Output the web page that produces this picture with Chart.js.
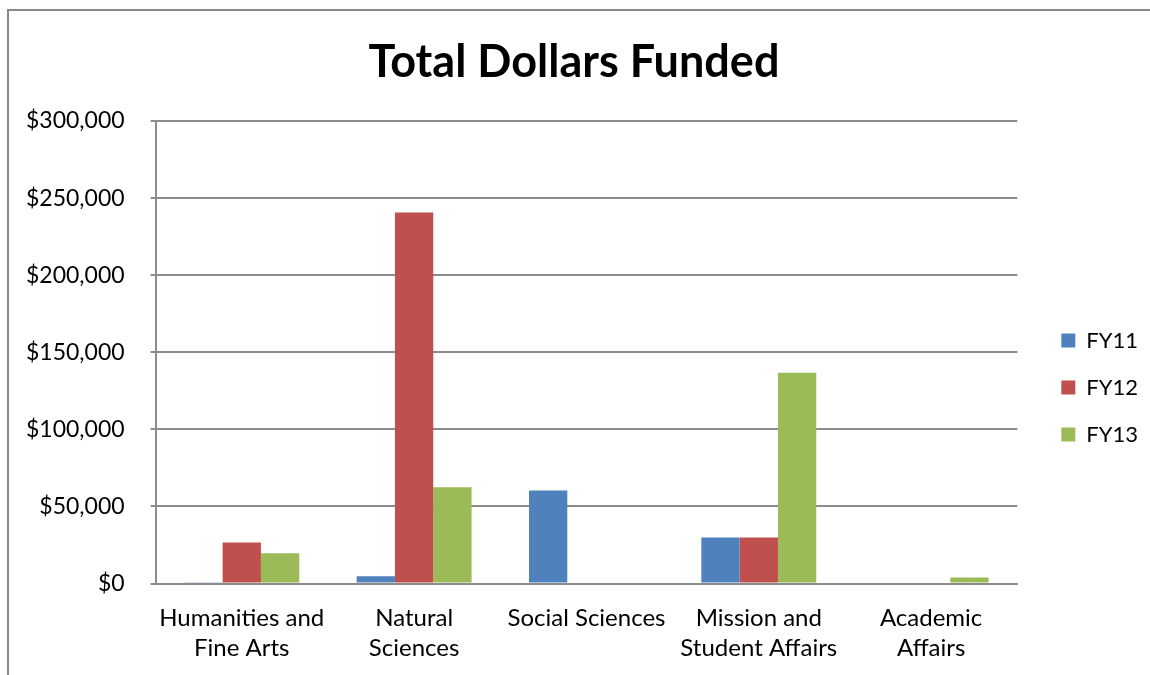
<!DOCTYPE html>
<html>
<head>
<meta charset="utf-8">
<script src="https://cdn.jsdelivr.net/npm/chart.js@4/dist/chart.umd.min.js"></script>
<style>
  html, body { margin: 0; padding: 0; background: #fff; }
  #wrap { position: relative; width: 1150px; height: 675px; overflow: hidden; }
  #frame { position: absolute; left: 7px; top: 9px; width: 1160px; height: 700px;
           border-top: 2px solid #878787; border-left: 2px solid #878787; }
  #chart { position: absolute; left: 0; top: 0; }
</style>
</head>
<body>
<div id="wrap">
  <div id="frame"></div>
  <canvas id="chart" width="1150" height="675"></canvas>
</div>
<script>
// Data
const categories = [
  ["Humanities and", "Fine Arts"],
  ["Natural", "Sciences"],
  "Social Sciences",
  ["Mission and", "Student Affairs"],
  ["Academic", "Affairs"]
];
const fy11 = [600, 4700, 60300, 29900, 0];
const fy12 = [26700, 240600, 0, 29900, 0];
const fy13 = [19700, 62500, 0, 136700, 3900];
const yTicks = [0, 50000, 100000, 150000, 200000, 250000, 300000];

const font = "Lato, 'Open Sans', sans-serif";
const gridColor = "#8c8c8c";

const ctx = document.getElementById("chart");
const chart = new Chart(ctx, {
  type: "bar",
  data: {
    labels: categories,
    datasets: [
      { label: "FY11", data: fy11, backgroundColor: "#4F81BD" },
      { label: "FY12", data: fy12, backgroundColor: "#C0504D" },
      { label: "FY13", data: fy13, backgroundColor: "#9BBB59" }
    ]
  },
  options: {
    responsive: false,
    animation: false,
    layout: { padding: { left: 0, right: 2, top: 0, bottom: 0 } },
    datasets: { bar: { barPercentage: 1, categoryPercentage: 0.667 } },
    plugins: {
      title: {
        display: true,
        text: "Total Dollars Funded",
        color: "#000",
        font: { family: font, size: 45, weight: "bold" },
        padding: { top: 35, bottom: 32 }
      },
      legend: {
        position: "right",
        title: { display: true, text: "", font: { size: 10 }, padding: { top: 0, bottom: 88 } },
        labels: {
          color: "#000",
          font: { family: font, size: 22 },
          boxWidth: 14,
          boxHeight: 14,
          padding: 25
        }
      },
      tooltip: { enabled: false }
    },
    scales: {
      x: {
        grid: { display: false },
        border: { color: gridColor, width: 2 },
        ticks: {
          color: "#000",
          font: { family: font, size: 24, lineHeight: 1.28 },
          padding: 11,
          maxRotation: 0,
          autoSkip: false
        }
      },
      y: {
        min: 0,
        max: 300000,
        afterBuildTicks: axis => { axis.ticks = yTicks.map(v => ({ value: v })); },
        grid: { color: gridColor, lineWidth: 2, tickLength: 5 },
        border: { color: gridColor, width: 2 },
        ticks: {
          color: "#000",
          font: { family: font, size: 23 },
          padding: 26,
          callback: v => "$" + v.toLocaleString("en-US")
        }
      },
      // empty spacer between plot and legend
      gap: {
        position: "right",
        grid: { display: false },
        border: { display: false },
        ticks: { display: false },
        afterFit: s => { s.width = 19; }
      }
    }
  }
});
</script>
</body>
</html>
